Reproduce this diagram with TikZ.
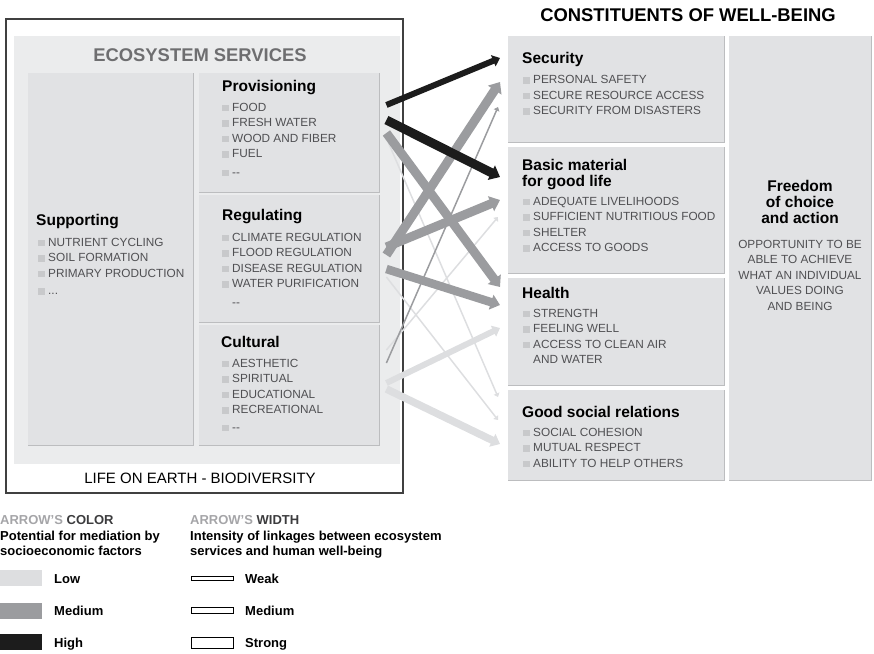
\documentclass[tikz,border=0pt]{standalone}
\usepackage{fontspec}
\setmainfont{Liberation Sans}
\usetikzlibrary{arrows.meta}

\definecolor{panelgray}{RGB}{235,236,237}
\definecolor{boxgray}{RGB}{225,226,228}
\definecolor{edgegray}{RGB}{188,189,191}
\definecolor{bulletgray}{RGB}{200,201,203}
\definecolor{itemgray}{RGB}{80,80,83}
\definecolor{headgray}{RGB}{110,110,112}
\definecolor{lgdlight}{RGB}{165,165,168}
\definecolor{lgddark}{RGB}{60,60,62}
\definecolor{arrowlow}{RGB}{221,222,224}
\definecolor{arrowmed}{RGB}{155,156,159}
\definecolor{arrowhigh}{RGB}{28,28,28}

\def\bul#1{\textcolor{bulletgray}{\rule{6.5pt}{6.5pt}}\hspace{3.5pt}#1}

\begin{document}
\begin{tikzpicture}[x=1pt,y=-1pt,
	svcbox/.style={fill=boxgray,inner sep=0pt,anchor=north west},
	boxedge/.style={draw=edgegray,line width=1.5pt},
	ttl/.style={font=\fontsize{15.5}{16}\selectfont\bfseries,anchor=north west,inner sep=0pt},
	bigttl/.style={font=\fontsize{18.4}{20}\selectfont\bfseries,inner sep=0pt},
	itms/.style={font=\fontsize{11.8}{15.4}\selectfont,text=itemgray,align=left,anchor=north west,inner sep=0pt},
	lgd/.style={font=\fontsize{13}{15}\selectfont\bfseries,anchor=base west,inner sep=0pt},
	swatch/.style={minimum width=42,minimum height=16,inner sep=0pt,anchor=north west},
	wbar/.style={draw=black,line width=0.8pt,fill=white,minimum width=42,inner sep=0pt,anchor=west},
	lnk/.style={-{Triangle[length=2.5pt 0.8,width=4pt 1.3]}},
	weaklnk/.style={lnk,line width=1.5pt},
	midlnk/.style={lnk,line width=6pt},
	stronglnk/.style={lnk,line width=9pt}]
	%%%%% START %%%%%
	\useasboundingbox (0,0) rectangle (874,653);
	
	% ecosystem services
	\draw[black!75,line width=1.1pt] (6,19) rectangle (403,493);
	\fill[panelgray] (14,36) rectangle (400,464);
	\node[bigttl,text=headgray] (esvc) at (200,55) {ECOSYSTEM SERVICES};
	
	\node[svcbox,minimum width=165,minimum height=372] (supp) at (28,73) {};
	\node[svcbox,minimum width=180,minimum height=119] (prov) at (199,73) {};
	\node[svcbox,minimum width=180,minimum height=127] (reg) at (199,195) {};
	\node[svcbox,minimum width=180,minimum height=120] (cult) at (199,325) {};
	\foreach \b in {supp,prov,reg,cult}
		\draw[boxedge] (\b.south west) -- (\b.south east) -- (\b.north east);
	
	\node[ttl] (suppttl) at (36,214.5) {Supporting};
	\node[itms] (suppitm) at (38,238) {\bul{NUTRIENT CYCLING}\\\bul{SOIL FORMATION}\\\bul{PRIMARY PRODUCTION}\\[2pt]\bul{...}};
	
	\node[ttl] (provttl) at (222,80.5) {Provisioning};
	\node[itms] (provitm) at (222,103) {\bul{FOOD}\\\bul{FRESH WATER}\\\bul{WOOD AND FIBER}\\\bul{FUEL}\\[3pt]\bul{-{}-}};
	
	\node[ttl] (regttl) at (222,209.5) {Regulating};
	\node[itms] (regitm) at (222,233) {\bul{CLIMATE REGULATION}\\\bul{FLOOD REGULATION}\\\bul{DISEASE REGULATION}\\\bul{WATER PURIFICATION}\\[3pt]\hspace{10pt}-{}-};
	
	\node[ttl] (cultttl) at (221,336.5) {Cultural};
	\node[itms] (cultitm) at (222,359) {\bul{AESTHETIC}\\\bul{SPIRITUAL}\\\bul{EDUCATIONAL}\\\bul{RECREATIONAL}\\[2pt]\bul{-{}-}};
	
	\node[font=\fontsize{15}{15}\selectfont,inner sep=0pt] (life) at (200,478) {LIFE ON EARTH - BIODIVERSITY};
	
	% constituents of well-being
	\node[bigttl] (cwb) at (688,15) {CONSTITUENTS OF WELL-BEING};
	
	\node[svcbox,minimum width=216,minimum height=106] (sec) at (508,36) {};
	\node[svcbox,minimum width=216,minimum height=126] (basic) at (508,147) {};
	\node[svcbox,minimum width=216,minimum height=107] (health) at (508,278) {};
	\node[svcbox,minimum width=216,minimum height=90] (social) at (508,390) {};
	\node[svcbox,minimum width=142,minimum height=444] (freedom) at (729,36) {};
	\foreach \b in {sec,basic,health,social,freedom}
		\draw[boxedge] (\b.south west) -- (\b.south east) -- (\b.north east);
	
	\node[ttl] (secttl) at (522,52.5) {Security};
	\node[itms] (secitm) at (523,75.5) {\bul{PERSONAL SAFETY}\\\bul{SECURE RESOURCE ACCESS}\\\bul{SECURITY FROM DISASTERS}};
	
	\node[ttl,align=left] (basicttl) at (522,159.5) {Basic material\\for good life};
	\node[itms] (basicitm) at (523,197) {\bul{ADEQUATE LIVELIHOODS}\\\bul{SUFFICIENT NUTRITIOUS FOOD}\\\bul{SHELTER}\\\bul{ACCESS TO GOODS}};
	
	\node[ttl] (healthttl) at (522,287.5) {Health};
	\node[itms] (healthitm) at (523,309) {\bul{STRENGTH}\\\bul{FEELING WELL}\\\bul{ACCESS TO CLEAN AIR}\\\hspace{10pt}AND WATER};
	
	\node[ttl] (socialttl) at (522,406.5) {Good social relations};
	\node[itms] (socialitm) at (523,428) {\bul{SOCIAL COHESION}\\\bul{MUTUAL RESPECT}\\\bul{ABILITY TO HELP OTHERS}};
	
	\node[ttl,align=center,anchor=north] (freettl) at (800,180.5) {Freedom\\of choice\\and action};
	\node[itms,align=center,anchor=north] (freeitm) at (800,240) {OPPORTUNITY TO BE\\ABLE TO ACHIEVE\\WHAT AN INDIVIDUAL\\VALUES DOING\\AND BEING};
	
	% linkages, light first
	\draw[weaklnk,arrowlow] ([xshift=7pt,yshift=-65pt]prov.north east) -- ([xshift=-10pt,yshift=-7pt]social.north west);
	\draw[weaklnk,arrowlow] ([xshift=7pt,yshift=-82pt]reg.north east) -- ([xshift=-10pt,yshift=-30pt]social.north west);
	\draw[weaklnk,arrowlow] ([xshift=7pt,yshift=-25pt]cult.north east) -- ([xshift=-10pt,yshift=-70pt]basic.north west);
	\draw[midlnk,arrowlow] ([xshift=7pt,yshift=-58pt]cult.north east) -- ([xshift=-8pt,yshift=-50pt]health.north west);
	\draw[stronglnk,line width=7.5pt,arrowlow] ([xshift=7pt,yshift=-64pt]cult.north east) -- ([xshift=-8pt,yshift=-54pt]social.north west);
	
	\draw[weaklnk,arrowmed] ([xshift=7pt,yshift=-38pt]cult.north east) -- ([xshift=-10pt,yshift=-71pt]sec.north west);
	\draw[stronglnk,arrowmed] ([xshift=7pt,yshift=-60pt]prov.north east) -- ([xshift=-8pt,yshift=-9pt]health.north west);
	\draw[stronglnk,arrowmed] ([xshift=7pt,yshift=-60pt]reg.north east) -- ([xshift=-8pt,yshift=-46pt]sec.north west);
	\draw[stronglnk,arrowmed] ([xshift=7pt,yshift=-52pt]reg.north east) -- ([xshift=-8pt,yshift=-53pt]basic.north west);
	\draw[stronglnk,line width=8.5pt,arrowmed] ([xshift=7pt,yshift=-74pt]reg.north east) -- ([xshift=-8pt,yshift=-27pt]health.north west);
	
	\draw[midlnk,arrowhigh] ([xshift=7pt,yshift=-32pt]prov.north east) -- ([xshift=-8pt,yshift=-22pt]sec.north west);
	\draw[stronglnk,arrowhigh] ([xshift=7pt,yshift=-47pt]prov.north east) -- ([xshift=-8pt,yshift=-30pt]basic.north west);
	
	% legend
	\node[lgd] (colhead) at (0,524) {\textcolor{lgdlight}{ARROW'S} \textcolor{lgddark}{COLOR}};
	\node[lgd,anchor=north west,align=left] (coltxt) at (0,531) {Potential for mediation by\\socioeconomic factors};
	\node[swatch,fill=arrowlow] (lowsw) at (0,570) {};
	\node[swatch,fill=arrowmed] (medsw) at (0,603) {};
	\node[swatch,fill=arrowhigh] (highsw) at (0,634) {};
	\node[lgd] (lowlbl) at (54,583) {Low};
	\node[lgd] (medlbl) at (54,615) {Medium};
	\node[lgd] (highlbl) at (54,647) {High};
	
	\node[lgd] (widhead) at (190,524) {\textcolor{lgdlight}{ARROW'S} \textcolor{lgddark}{WIDTH}};
	\node[lgd,anchor=north west,align=left] (widtxt) at (190,531) {Intensity of linkages between ecosystem\\services and human well-being};
	\node[wbar,minimum height=4] (weaksym) at (191,578) {};
	\node[wbar,minimum height=6] (medsym) at (191,610) {};
	\node[wbar,minimum height=11] (strongsym) at (191,643) {};
	\node[lgd] (weaklbl) at (245,583) {Weak};
	\node[lgd] (midlbl) at (245,615) {Medium};
	\node[lgd] (stronglbl) at (245,647) {Strong};
	%%%%% END %%%%%
\end{tikzpicture}
\end{document}
